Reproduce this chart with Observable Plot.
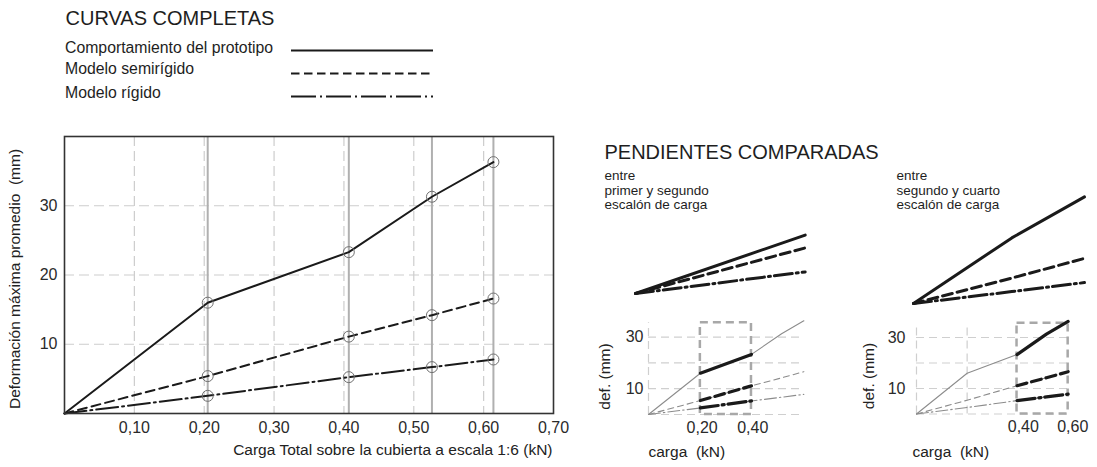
<!DOCTYPE html>
<html><head><meta charset="utf-8">
<script src="https://cdn.jsdelivr.net/npm/d3@7"></script>
<script src="https://cdn.jsdelivr.net/npm/@observablehq/plot@0.6"></script>
<style>
body{margin:0;background:#fff;}
#wrap{position:relative;width:1097px;height:467px;overflow:hidden;font-family:"Liberation Sans",Arial,sans-serif;color:#1e1e1e;}
#wrap svg{position:absolute;left:0;top:0;}
.t{position:absolute;white-space:nowrap;line-height:1;}
</style></head><body><div id="wrap"></div>
<script>
// ---- data ----
const loads      = [0, 0.205, 0.407, 0.526, 0.614];
const prototipo  = [0, 16.0, 23.3, 31.3, 36.3];
const semirigido = [0, 5.4, 11.1, 14.2, 16.6];
const rigido     = [0, 2.55, 5.25, 6.7, 7.8];
const seriesNames = ["Comportamiento del prototipo", "Modelo semirígido", "Modelo rígido"];
const xTicks = [0.10, 0.20, 0.30, 0.40, 0.50, 0.60, 0.70];
const yTicks = [10, 20, 30];
const smallYTicks = [10, 30];
const smallXTicksA = [0.20, 0.40];
const smallXTicksB = [0.40, 0.60];
const title1 = "CURVAS COMPLETAS";
const title2 = "PENDIENTES COMPARADAS";
const subA = ["entre", "primer y segundo", "escalón de carga"];
const subB = ["entre", "segundo y cuarto", "escalón de carga"];
const xLabel = "Carga Total sobre la cubierta a escala 1:6 (kN)";
const yLabel = "Deformación máxima promedio  (mm)";
const smallXLabel = "carga  (kN)";
const smallYLabel = "def. (mm)";
const stepsA = [1, 2]; // primer y segundo escalón
const stepsB = [2, 4]; // segundo y cuarto escalón

// ---- styling ----
const FONT = "Liberation Sans, Arial, sans-serif";
const INK = "#1a1a1a";
const dash = {
  main:   [undefined, "9,5", "22,4,2,4"],
  legend: [undefined, "8.5,4.5", "25,4,2,4"],
  thin:   [undefined, "6,4", "12,3,1.5,3"],
  thick:  [undefined, "10,5", "18,4,2,4"]
};
const values = [prototipo, semirigido, rigido];
const fmt = d => d.toFixed(2).replace(".", ",");
const wrap = document.getElementById("wrap");
const base = {width: 1097, height: 467, style: {fontFamily: FONT, background: "transparent", color: "#2a2a2a", overflow: "visible"}};

function rows(i, from = 0, to = loads.length - 1, rel = false) {
  const out = [];
  for (let j = from; j <= to; j++) {
    out.push({
      x: rel ? loads[j] - loads[from] : loads[j],
      y: rel ? values[i][j] - values[i][from] : values[i][j]
    });
  }
  return out;
}

// ---- main chart ----
const points = [];
values.forEach((v, i) => loads.forEach((x, j) => { if (j > 0) points.push({x, y: v[j]}); }));
wrap.append(Plot.plot({
  ...base,
  marginLeft: 64, marginRight: 544, marginTop: 136, marginBottom: 54,
  style: {...base.style, fontSize: "16px"},
  x: {domain: [0, 0.7], ticks: xTicks, tickFormat: fmt, tickSize: 0, tickPadding: 8.5, label: null},
  y: {domain: [0, 40], ticks: yTicks, tickSize: 0, tickPadding: 7, label: null},
  marks: [
    Plot.ruleX(xTicks.filter(t => t < 0.7), {stroke: "#cdcdcd", strokeWidth: 1.2, strokeDasharray: "10,5"}),
    Plot.ruleY(yTicks, {stroke: "#cdcdcd", strokeWidth: 1.2, strokeDasharray: "10,5"}),
    Plot.ruleX(loads.slice(1), {stroke: "#b0b0b0", strokeWidth: 2}),
    ...values.map((v, i) => Plot.line(rows(i), {x: "x", y: "y", stroke: INK, strokeWidth: 2, strokeDasharray: dash.main[i]})),
    Plot.dot(points, {x: "x", y: "y", r: 5.5, stroke: "#707070", strokeWidth: 1, fill: "none"}),
    Plot.frame({stroke: "#333", strokeWidth: 1.6}),
    Plot.text([yLabel], {frameAnchor: "left", textAnchor: "middle", lineAnchor: "middle", dx: -49.5, dy: 4, rotate: -90, fontSize: 15.5, fill: "#222"}),
    Plot.text([xLabel], {frameAnchor: "bottom-right", lineAnchor: "middle", dx: -1, dy: 37, textAnchor: "end", fontSize: 15.5, fill: "#222"})
  ]
}));

// ---- legend lines ----
wrap.append(Plot.plot({
  ...base,
  x: {domain: [0, 1], range: [291, 433], axis: null},
  y: {type: "point", domain: seriesNames, range: [50, 96.7], padding: 0, axis: null},
  marks: seriesNames.map((n, i) => Plot.ruleY([n], {x1: 0, x2: 1, stroke: INK, strokeWidth: 2, strokeDasharray: dash.legend[i]}))
}));

// ---- slope diagrams ----
function slope(steps, ox, oy, kx, ky) {
  return Plot.plot({
    ...base,
    x: {domain: [0, 1], range: [ox, ox + kx], axis: null},
    y: {domain: [0, 10], range: [oy, oy - 10 * ky], axis: null},
    marks: values.map((v, i) => Plot.line(rows(i, steps[0], steps[1], true),
      {x: "x", y: "y", stroke: INK, strokeWidth: 3, strokeDasharray: dash.thick[i]}))
  });
}
wrap.append(slope(stepsA, 635, 293, 840, 8.0));
wrap.append(slope(stepsB, 913, 303, 826, 8.2));

// ---- small charts ----
function small(steps, ox, oy, kx, ky, xT, opts) {
  const last = loads[loads.length - 1];
  const yTop = 35.6;
  const vgrid = loads.slice(0, steps[0]);
  return Plot.plot({
    ...base,
    style: {...base.style, fontSize: "16px"},
    x: {domain: [0, 1], range: [ox, ox + kx], axis: null},
    y: {domain: [0, 10], range: [oy, oy - 10 * ky], axis: null},
    marks: [
      Plot.ruleY([0, ...yTicks], {x1: 0, x2: last, stroke: "#cfcfcf", strokeWidth: 1.2, strokeDasharray: "8,5"}),
      Plot.ruleX(vgrid, {y1: 0, y2: yTop, stroke: "#cfcfcf", strokeWidth: 1.2, strokeDasharray: "8,5"}),
      Plot.rect([{x1: loads[steps[0]], x2: loads[steps[1]]}], {x1: "x1", x2: "x2", y1: 0, y2: yTop,
        fill: "none", stroke: "#a8a8a8", strokeWidth: 2.5, strokeDasharray: "8,5"}),
      ...values.map((v, i) => Plot.line(rows(i), {x: "x", y: "y", stroke: "#8c8c8c", strokeWidth: 1.1, strokeDasharray: dash.thin[i]})),
      ...values.map((v, i) => Plot.line(rows(i, steps[0], steps[1]), {x: "x", y: "y", stroke: INK, strokeWidth: 3.2, strokeDasharray: dash.thick[i]})),
      Plot.text(smallYTicks, {x: 0, y: d => d, text: d => String(d), textAnchor: "end", dx: opts.yDx, fontSize: 16, fill: "#2a2a2a"}),
      Plot.text(xT, {x: d => d, y: 0, text: fmt, dx: opts.xDx, dy: 13, fontSize: 16, fill: "#2a2a2a"}),
      Plot.text([smallYLabel], {x: 0, y: 0, rotate: -90, dx: opts.lDx, dy: -38, fontSize: 15.5, fill: "#222"}),
      Plot.text([smallXLabel], {x: 0, y: 0, textAnchor: "start", dx: opts.cDx, dy: 38, fontSize: 15.5, fill: "#222"})
    ]
  });
}
wrap.append(small(stepsA, 648, 414, 253, 2.58, smallXTicksA, {yDx: -5, xDx: 3, lDx: -43, cDx: 0}));
wrap.append(small(stepsB, 916, 413.5, 247, 2.55, smallXTicksB, {yDx: -11, xDx: 8, lDx: -47, cDx: -4}));

// ---- HTML text ----
function txt(s, left, top, size, extra = "") {
  const d = document.createElement("div");
  d.className = "t";
  d.style.cssText = `left:${left}px;top:${top}px;font-size:${size}px;${extra}`;
  d.textContent = s;
  wrap.append(d);
  return d;
}
txt(title1, 65.5, 8.2, 20);
txt(title2, 604.5, 142.4, 20);
[39.9, 60.9, 84.9].forEach((t, i) => txt(seriesNames[i], 65, t, 15.8));
const sub = (lines, left) => {
  const d = txt("", left, 169, 13.5, "line-height:14.7px;");
  d.innerHTML = lines.join("<br>");
};
sub(subA, 604.5);
sub(subB, 896.5);
</script></body></html>
